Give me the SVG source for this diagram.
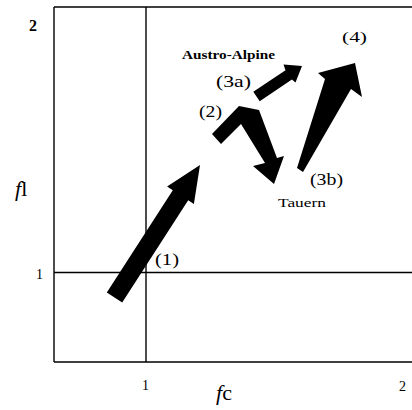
<svg xmlns="http://www.w3.org/2000/svg" width="412" height="410" viewBox="0 0 412 410">
<style>
.ln{stroke:#000;stroke-width:1.4;fill:none}
.ar{fill:#000;stroke:none}
.t{font-family:"Liberation Serif","Times New Roman",serif;fill:#000}
.lab{font-size:16px}
.ax{font-size:14px}
.big{font-size:22px}
</style>
<rect width="412" height="410" fill="#fff"/>
<g id="frame">
<line class="ln" x1="54" y1="7" x2="54" y2="362"/>
<line class="ln" x1="54" y1="7" x2="412" y2="7"/>
<line class="ln" x1="54" y1="362" x2="412" y2="362"/>
<line class="ln" x1="146" y1="7" x2="146" y2="362"/>
<line class="ln" x1="54" y1="272.5" x2="412" y2="272.5"/>
</g>
<g id="axis-labels">
<text class="t" x="29" y="31" font-size="16" font-weight="bold">2</text>
<text class="t ax" x="36" y="279">1</text>
<text class="t ax" x="142" y="390">1</text>
<text class="t ax" x="399" y="391">2</text>
<text class="t big" x="15" y="196"><tspan font-style="italic">f</tspan>l</text>
<text class="t big" x="216" y="400"><tspan font-style="italic">f</tspan>c</text>
</g>
<g id="connectors">
<polygon id="arrow1" class="ar" points="106.8,292.5 172.8,190.2 167.1,186.5 200,165 193.9,203.9 188.2,200.2 122.2,302.5"/>
<polygon id="arrow2" class="ar" points="212,134 239,106 259,110 277,158 284,156 274,184 253,166 265,163 241,124 221,144"/>
<polygon id="arrow3a" class="ar" points="253.3,91.8 285.5,70.2 283.5,64.5 302,66 295.5,82.5 291.9,79.6 259.7,101.2"/>
<polygon id="arrow4" class="ar" points="297,168 325,79 318,73 355,63 362,97 351,89 303,172"/>
</g>
<g id="label-1"><text class="t lab" x="155" y="265" textLength="24" lengthAdjust="spacingAndGlyphs">(1)</text></g>
<g id="label-2"><text class="t lab" x="199" y="117" textLength="23" lengthAdjust="spacingAndGlyphs">(2)</text></g>
<g id="label-3a"><text class="t" font-size="17" x="216" y="87" textLength="35" lengthAdjust="spacingAndGlyphs">(3a)</text></g>
<g id="label-3b"><text class="t lab" x="310" y="185" textLength="33" lengthAdjust="spacingAndGlyphs">(3b)</text></g>
<g id="label-4"><text class="t ax" x="342" y="42" textLength="25" lengthAdjust="spacingAndGlyphs">(4)</text></g>
<g id="label-austro"><text class="t" font-size="12.5" font-weight="bold" x="182" y="59" textLength="93" lengthAdjust="spacingAndGlyphs">Austro-Alpine</text></g>
<g id="label-tauern"><text class="t" font-size="13" x="278" y="206.5" textLength="48" lengthAdjust="spacingAndGlyphs">Tauern</text></g>
</svg>
